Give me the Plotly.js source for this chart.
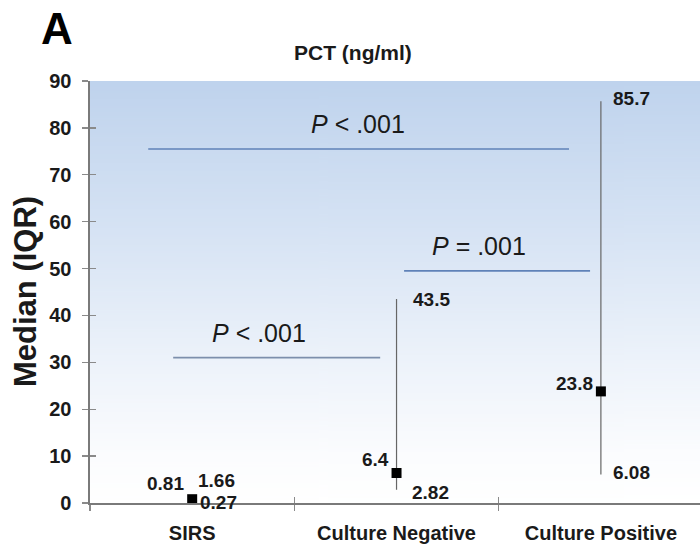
<!DOCTYPE html>
<html>
<head>
<meta charset="utf-8">
<script src="https://cdn.plot.ly/plotly-3.0.1.min.js"></script>
<style>
  html, body { margin: 0; padding: 0; background: #ffffff; }
  #chart { width: 700px; height: 547px; }
</style>
</head>
<body>
<div id="chart"></div>
<script>
// PCT (ng/ml): median with interquartile range per patient group
const groups  = ['SIRS', 'Culture Negative', 'Culture Positive'];
const medians = [0.81, 6.4, 23.8];
const q1      = [0.27, 2.82, 6.08];
const q3      = [1.66, 43.5, 85.7];
const yTicks  = [0, 10, 20, 30, 40, 50, 60, 70, 80, 90];

// pairwise comparisons: bracket span (category units), bracket height, label
const compText   = ['<i>P</i> < .001', '<i>P</i> = .001', '<i>P</i> < .001'];
const compFrom   = [-0.215, 1.037, -0.093];
const compTo     = [1.844, 1.947, 0.92];
const compY      = [75.5, 49.5, 31];
const compLabelX = [0.81, 1.404, 0.328];

// label nudges in pixels, one per group
const medShiftY = [16, 13, 8];
const hiShiftX  = [4, 14, 10];
const hiShiftY  = [15, 0, 3];
const loShiftX  = [6, 13, 10];
const loShiftY  = [-1, -3, 2];

const FONT = 'Liberation Sans, Arial, Helvetica, sans-serif';
const INK = '#1a1a1a';

// vertical blue-to-white wash for the plotting area
function gradientURL() {
  const c = document.createElement('canvas');
  c.width = 4; c.height = 400;
  const g = c.getContext('2d');
  const lg = g.createLinearGradient(0, 0, 0, 400);
  lg.addColorStop(0.00, '#bfd3ed');
  lg.addColorStop(0.35, '#d6e3f4');
  lg.addColorStop(0.65, '#ecf2fa');
  lg.addColorStop(0.88, '#fbfcfe');
  lg.addColorStop(1.00, '#ffffff');
  g.fillStyle = lg;
  g.fillRect(0, 0, 4, 400);
  return c.toDataURL('image/png');
}

const idx = groups.map((_, i) => i);

const traces = [
  {
    type: 'scatter',
    mode: 'markers',
    x: groups,
    y: medians,
    marker: { symbol: 'square', size: 10, color: '#000000' },
    error_y: {
      type: 'data',
      symmetric: false,
      array: idx.map(i => q3[i] - medians[i]),
      arrayminus: idx.map(i => medians[i] - q1[i]),
      width: 0,
      thickness: 1.2,
      color: '#666666'
    },
    hoverinfo: 'skip',
    showlegend: false,
    cliponaxis: false
  },
  // carrier for the overlay axes that draw the inner half of each tick
  {
    type: 'scatter', mode: 'none', x: groups, y: medians,
    xaxis: 'x2', yaxis: 'y2', hoverinfo: 'skip', showlegend: false
  }
];

const LABEL_FONT = { family: FONT, size: 19, color: INK, weight: 'bold' };

const annotations = [];
idx.forEach(i => {
  annotations.push({
    x: i, y: medians[i], xref: 'x', yref: 'y',
    text: String(medians[i]), showarrow: false,
    xanchor: 'right', yanchor: 'middle', xshift: -6, yshift: medShiftY[i],
    font: LABEL_FONT
  });
  annotations.push({
    x: i, y: q3[i], xref: 'x', yref: 'y',
    text: String(q3[i]), showarrow: false,
    xanchor: 'left', yanchor: 'middle', xshift: hiShiftX[i], yshift: hiShiftY[i],
    font: LABEL_FONT
  });
  annotations.push({
    x: i, y: q1[i], xref: 'x', yref: 'y',
    text: String(q1[i]), showarrow: false,
    xanchor: 'left', yanchor: 'middle', xshift: loShiftX[i], yshift: loShiftY[i],
    font: LABEL_FONT
  });
});

const shapes = [];
compText.forEach((t, k) => {
  shapes.push({
    type: 'line', xref: 'x', yref: 'y',
    x0: compFrom[k], x1: compTo[k], y0: compY[k], y1: compY[k],
    line: { color: k === 2 ? '#7d8fac' : '#5f82b8', width: 1.6 }
  });
  annotations.push({
    x: compLabelX[k], y: compY[k], xref: 'x', yref: 'y',
    text: t, showarrow: false, xanchor: 'center', yanchor: 'middle', yshift: 25,
    font: { family: FONT, size: 25, color: INK }
  });
});

// panel letter, chart heading, value-axis heading
annotations.push({
  xref: 'paper', yref: 'paper', x: 0, y: 1, xshift: -33, yshift: 53,
  text: 'A', showarrow: false, xanchor: 'center', yanchor: 'middle',
  font: { family: FONT, size: 44, color: '#000000', weight: 'bold' }
});
annotations.push({
  xref: 'paper', yref: 'paper', x: 0, y: 1, xshift: 263, yshift: 29,
  text: 'PCT (ng/ml)', showarrow: false, xanchor: 'center', yanchor: 'middle',
  font: { family: FONT, size: 21, color: INK, weight: 'bold' }
});
annotations.push({
  xref: 'paper', yref: 'paper', x: 0, y: 0.5, xshift: -65, yshift: 0,
  text: 'Median (IQR)', showarrow: false, textangle: -90,
  xanchor: 'center', yanchor: 'middle',
  font: { family: FONT, size: 31, color: INK, weight: 'bold' }
});

const xRange = [-0.5, 2.485];
const yRange = [0, 90];

const layout = {
  width: 700,
  height: 547,
  margin: { l: 90, r: 0, t: 81, b: 44, pad: 0 },
  paper_bgcolor: '#ffffff',
  plot_bgcolor: 'rgba(0,0,0,0)',
  showlegend: false,
  xaxis: {
    type: 'category',
    categoryarray: groups,
    range: xRange,
    tickson: 'boundaries',
    ticks: 'outside', ticklen: 6, tickwidth: 1.4, tickcolor: '#8a8a8a',
    showline: true, linecolor: '#7a7a7a', linewidth: 1.6,
    showgrid: false, zeroline: false, fixedrange: true,
    tickfont: { family: FONT, size: 20, color: INK, weight: 'bold' },
    ticklabelstandoff: 11
  },
  yaxis: {
    range: yRange,
    tickvals: yTicks,
    ticktext: yTicks.map(String),
    ticks: 'outside', ticklen: 6, tickwidth: 1.4, tickcolor: '#8a8a8a',
    showline: true, linecolor: '#7a7a7a', linewidth: 1.6,
    showgrid: false, zeroline: false, fixedrange: true,
    tickfont: { family: FONT, size: 20, color: INK, weight: 'bold' },
    ticklabelstandoff: 7
  },
  xaxis2: {
    type: 'category', categoryarray: groups, range: xRange,
    overlaying: 'x', tickson: 'boundaries',
    ticks: 'inside', ticklen: 6, tickwidth: 1.4, tickcolor: '#8a8a8a',
    showticklabels: false, showline: false, showgrid: false, zeroline: false
  },
  yaxis2: {
    range: yRange, tickvals: yTicks, overlaying: 'y', side: 'left',
    ticks: 'inside', ticklen: 6, tickwidth: 1.4, tickcolor: '#8a8a8a',
    showticklabels: false, showline: false, showgrid: false, zeroline: false
  },
  images: [{
    source: gradientURL(),
    xref: 'paper', yref: 'paper',
    x: 0, y: 1, sizex: 1, sizey: 1,
    xanchor: 'left', yanchor: 'top',
    sizing: 'stretch', layer: 'below'
  }],
  shapes: shapes,
  annotations: annotations
};

Plotly.newPlot('chart', traces, layout, { displayModeBar: false, staticPlot: true });
</script>
</body>
</html>
